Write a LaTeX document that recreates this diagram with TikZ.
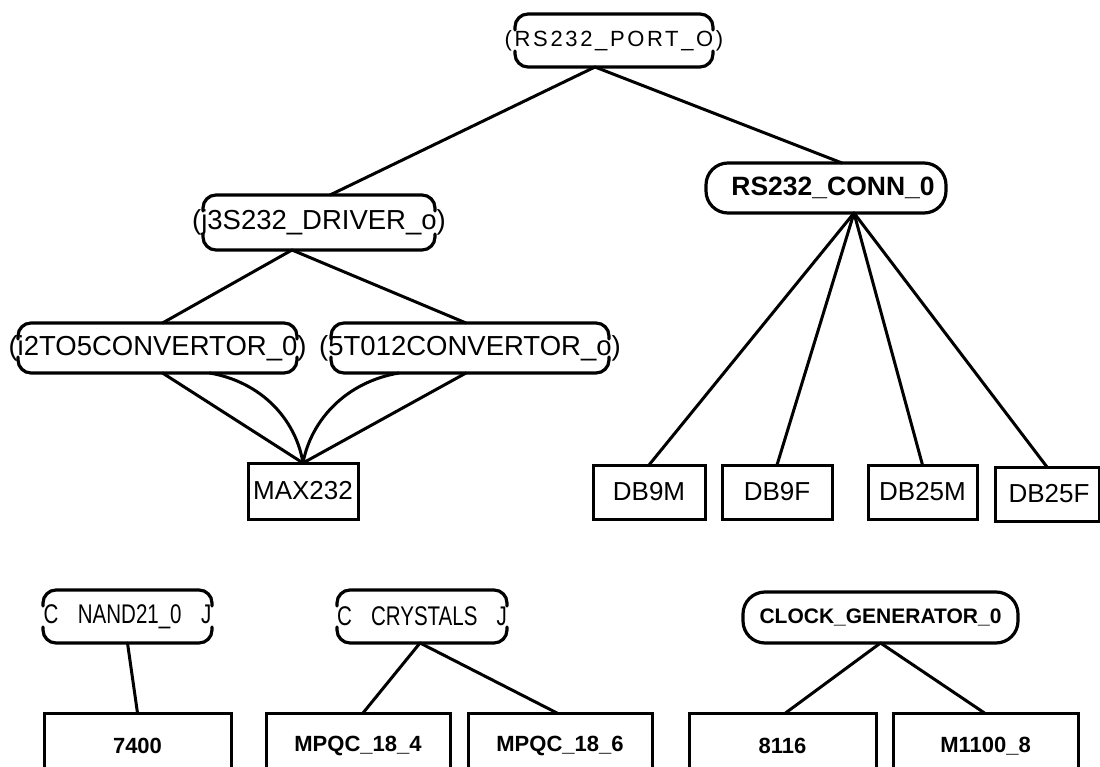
\documentclass[tikz,border=0pt]{standalone}
\usepackage{fontspec}
\setmainfont{Liberation Sans}
\newfontfamily\spacedfont[LetterSpace=12]{Liberation Sans}
\newfontfamily\narrowfont[FakeStretch=0.76]{Liberation Sans}
\newcommand\ctr[1]{\makebox[0pt]{#1}}
\tikzset{
  every node/.style={inner sep=0pt, outer sep=0pt},
  link/.style={line width=3pt, line cap=round},
  brk/.style={line width=3.2pt, rounded corners=13pt, line cap=round},
  roundbox/.style={draw, line width=3.2pt, rounded corners=22pt},
  leafbox/.style={draw, line width=3pt},
  regfont/.style={font=\fontsize{27.5}{30}\selectfont},
  leaffont/.style={font=\fontsize{26}{30}\selectfont},
  botfont/.style={font=\bfseries\fontsize{22}{26}\selectfont},
  narrowtxt/.style={font=\narrowfont\fontsize{27}{30}\selectfont},
}
\begin{document}
\begin{tikzpicture}[x=1pt,y=-1pt]
\useasboundingbox (0,0) rectangle (1100,767);
\clip (0,0) rectangle (1100,767);

% upper tree
\node[minimum width=198pt, minimum height=53pt, font=\spacedfont\fontsize{22}{26}\selectfont] (port) at (614,40.5) {\ctr{(RS232\_PORT\_O)}};
\node[roundbox, minimum width=240pt, minimum height=50pt, font=\bfseries\fontsize{26.5}{30}\selectfont] (conn) at (826,188) {\ctr{\hspace*{14pt}RS232\_CONN\_0}};
\node[regfont, minimum width=232pt, minimum height=55pt] (drv) at (319,222.5) {\ctr{(j3S232\_DRIVER\_o)}};
\node[regfont, minimum width=279pt, minimum height=50pt] (cva) at (157.5,348) {\ctr{(i2TO5CONVERTOR\_0)}};
\node[regfont, minimum width=278pt, minimum height=50pt] (cvb) at (470,348) {\ctr{(5T012CONVERTOR\_o)}};

\node[leafbox, leaffont, minimum width=110pt, minimum height=56pt] (max) at (303,491) {MAX232};
\node[leafbox, leaffont, minimum width=112pt, minimum height=54pt] (db9m) at (649,492) {DB9M};
\node[leafbox, leaffont, minimum width=110pt, minimum height=54pt] (db9f) at (777,492) {DB9F};
\node[leafbox, leaffont, minimum width=109pt, minimum height=54pt] (db25m) at (922.5,492) {DB25M};
\node[leafbox, leaffont, minimum width=104pt, minimum height=54pt] (db25f) at (1047,494) {\ctr{\hspace*{4pt}DB25F}};

% lower trees
\node[narrowtxt, minimum width=169pt, minimum height=53pt] (nand) at (127.5,616.5) {\ctr{\makebox[168pt]{C\hfill NAND21\_0\hfill J}}};
\node[narrowtxt, minimum width=170pt, minimum height=53pt] (cry) at (422,616.5) {\ctr{\makebox[170pt]{C\hfill CRYSTALS\hfill J}}};
\node[roundbox, minimum width=275pt, minimum height=51pt, font=\bfseries\fontsize{21}{25}\selectfont] (clk) at (880.5,617.5) {\ctr{CLOCK\_GENERATOR\_0}};

\node[leafbox, botfont, minimum width=187pt, minimum height=66pt] (b7400) at (137.5,746) {7400};
\node[leafbox, botfont, minimum width=184pt, minimum height=66pt] (mp4) at (358,746) {MPQC\_18\_4};
\node[leafbox, botfont, minimum width=184pt, minimum height=66pt] (mp6) at (560,746) {MPQC\_18\_6};
\node[leafbox, botfont, minimum width=187pt, minimum height=66pt] (b8116) at (782.5,746) {8116};
\node[leafbox, botfont, minimum width=185pt, minimum height=66pt] (m1100) at (985.5,746) {M1100\_8};

% bracket outlines
\foreach \n in {port,drv,cva,cvb,nand,cry}{
  \draw[brk] ([yshift=-16pt]\n.north west) -- (\n.north west) -- (\n.north east) -- ([yshift=-16pt]\n.north east);
  \draw[brk] ([yshift=16pt]\n.south west) -- (\n.south west) -- (\n.south east) -- ([yshift=16pt]\n.south east);
}

% connectors
\draw[link] ([xshift=-19pt]port.south) -- ([xshift=11pt]drv.north);
\draw[link] ([xshift=-19pt]port.south) -- ([xshift=16pt]conn.north);
\draw[link] ([xshift=-27pt]drv.south) -- ([xshift=5pt]cva.north);
\draw[link] ([xshift=-27pt]drv.south) -- ([xshift=-4pt]cvb.north);
\draw[link] ([xshift=5pt]cva.south) -- (max.north);
\draw[link] ([xshift=52pt]cva.south) .. controls (262,382) and (296,420) .. (max.north);
\draw[link] ([xshift=-71pt]cvb.south) .. controls (346,382) and (311,420) .. (max.north);
\draw[link] ([xshift=-4pt]cvb.south) -- (max.north);
\foreach \t in {db9m,db9f,db25m,db25f}{
  \draw[link] ([xshift=28pt]conn.south) -- (\t.north);
}
\draw[link] (nand.south) -- (b7400.north);
\draw[link] ([xshift=-2pt]cry.south) -- ([xshift=5pt]mp4.north);
\draw[link] ([xshift=-2pt]cry.south) -- ([xshift=-3pt]mp6.north);
\draw[link] (clk.south) -- ([xshift=3pt]b8116.north);
\draw[link] (clk.south) -- ([xshift=-1pt]m1100.north);
\end{tikzpicture}
\end{document}
